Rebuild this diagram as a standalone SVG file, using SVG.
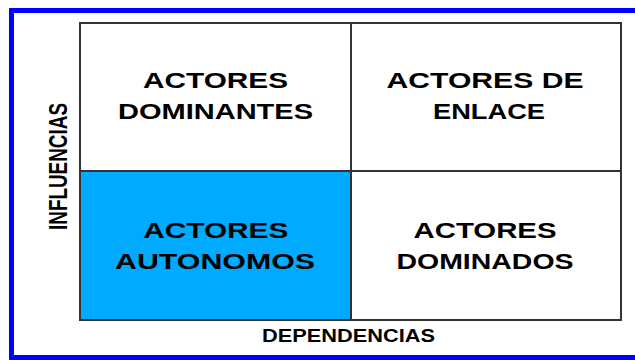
<svg xmlns="http://www.w3.org/2000/svg" width="635" height="360" viewBox="0 0 635 360">
<style>
.cell{fill:#ffffff;stroke:#333333;stroke-width:2}
.lbl{font-family:"Liberation Sans",Arial,sans-serif;font-weight:bold;font-size:22px;fill:#000000;text-anchor:middle}
.axis{font-family:"Liberation Sans",Arial,sans-serif;font-weight:bold;fill:#000000;text-anchor:middle}
</style>
<rect x="0" y="0" width="635" height="360" fill="#ffffff"/>
<rect id="frame" x="11.5" y="10.5" width="640" height="347" fill="none" stroke="#0000ff" stroke-width="5"/>
<g id="dominantes">
<rect class="cell" x="80" y="23" width="271" height="148"/>
<text class="lbl" x="215.5" y="88.3" textLength="145" lengthAdjust="spacingAndGlyphs">ACTORES</text>
<text class="lbl" x="215.5" y="119.3" textLength="195" lengthAdjust="spacingAndGlyphs">DOMINANTES</text>
</g>
<g id="enlace">
<rect class="cell" x="351" y="23" width="270" height="148"/>
<text class="lbl" x="485" y="88.3" textLength="197" lengthAdjust="spacingAndGlyphs">ACTORES DE</text>
<text class="lbl" x="489" y="119.3" textLength="112" lengthAdjust="spacingAndGlyphs">ENLACE</text>
</g>
<g id="autonomos">
<rect class="cell" x="80" y="171" width="271" height="149" style="fill:#00aaff"/>
<text class="lbl" x="215.8" y="237.7" textLength="145" lengthAdjust="spacingAndGlyphs">ACTORES</text>
<text class="lbl" x="215" y="269" textLength="200" lengthAdjust="spacingAndGlyphs">AUTONOMOS</text>
</g>
<g id="dominados">
<rect class="cell" x="351" y="171" width="270" height="149"/>
<text class="lbl" x="485" y="237.7" textLength="143" lengthAdjust="spacingAndGlyphs">ACTORES</text>
<text class="lbl" x="485" y="268.5" textLength="177" lengthAdjust="spacingAndGlyphs">DOMINADOS</text>
</g>
<g id="connectors"></g>
<g id="axis-influencias">
<text class="axis" transform="translate(67,166.5) rotate(-90)" x="0" y="0" font-size="26" textLength="127" lengthAdjust="spacingAndGlyphs">INFLUENCIAS</text>
</g>
<g id="axis-dependencias">
<text class="axis" x="348.5" y="342" font-size="18" textLength="173" lengthAdjust="spacingAndGlyphs">DEPENDENCIAS</text>
</g>
</svg>
